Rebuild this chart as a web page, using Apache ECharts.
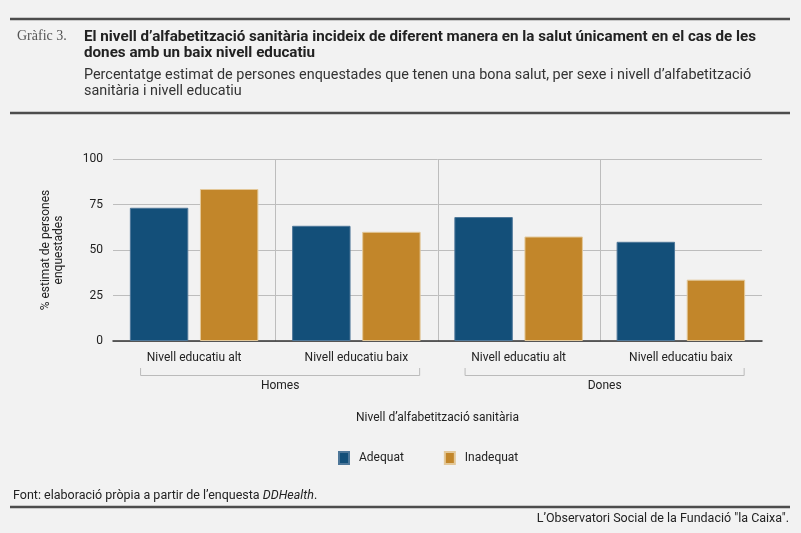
<!DOCTYPE html>
<html>
<head>
<meta charset="utf-8">
<script src="https://cdn.jsdelivr.net/npm/echarts@6/dist/echarts.min.js"></script>
<style>
html,body{margin:0;padding:0;background:#f2f2f2;}
#c{width:801px;height:533px;}
</style>
</head>
<body>
<div id="c"></div>
<script>
const categories = ['Nivell educatiu alt', 'Nivell educatiu baix', 'Nivell educatiu alt', 'Nivell educatiu baix'];
const groups = ['Homes', 'Dones'];
const seriesNames = ['Adequat', 'Inadequat'];
const adequat = [73.2, 63.3, 68.1, 54.5];
const inadequat = [83.5, 60.0, 57.4, 33.7];
const yTicks = [0, 25, 50, 75, 100];

const FONT = 'Roboto, "Liberation Sans", sans-serif';
const chart = echarts.init(document.getElementById('c'), null, {renderer: 'canvas'});

const option = {
  backgroundColor: '#f2f2f2',
  animation: false,
  textStyle: {fontFamily: FONT},
  title: [
    {text: 'Gràfic 3.', left: 17, top: 29, padding: 0,
     textStyle: {fontFamily: '"Liberation Serif", "DejaVu Serif", serif', fontSize: 14, fontWeight: 'normal', color: '#555'}},
    {text: 'El nivell d’alfabetització sanitària incideix de diferent manera en la salut únicament en el cas de les\ndones amb un baix nivell educatiu',
     left: 84, top: 29, padding: 0,
     textStyle: {fontFamily: FONT, fontSize: 15.2, fontWeight: 'bold', color: '#222', lineHeight: 16}},
    {text: 'Percentatge estimat de persones enquestades que tenen una bona salut, per sexe i nivell d’alfabetització\nsanitària i nivell educatiu',
     left: 84, top: 67, padding: 0,
     textStyle: {fontFamily: FONT, fontSize: 14.4, fontWeight: 'normal', color: '#333', lineHeight: 16}},
    {text: '{n|Font: elaboració pròpia a partir de l’enquesta }{i|DDHealth}{n|.}',
     left: 13, top: 489, padding: 0,
     textStyle: {fontWeight: 'normal', rich: {
       n: {fontFamily: FONT, fontSize: 12.5, fontWeight: 'normal', color: '#222'},
       i: {fontFamily: FONT, fontSize: 12.5, fontWeight: 'normal', fontStyle: 'italic', color: '#222'}}}},
    {text: 'L’Observatori Social de la Fundació "la Caixa".', right: 12, top: 512, padding: 0,
     textStyle: {fontFamily: FONT, fontSize: 12.5, fontWeight: 'normal', color: '#222'}}
  ],
  legend: {
    data: seriesNames,
    left: 333, top: 446,
    itemWidth: 10, itemHeight: 12, itemGap: 40,
    icon: 'rect',
    textStyle: {fontFamily: FONT, fontSize: 12, color: '#222', padding: [0, 0, 0, 5]}
  },
  grid: {left: 113, right: 39, top: 159, bottom: 192},
  xAxis: {
    type: 'category',
    data: categories,
    name: 'Nivell d’alfabetització sanitària',
    nameLocation: 'middle',
    nameGap: 71,
    nameTextStyle: {fontFamily: FONT, fontSize: 12, color: '#222'},
    axisLine: {show: true, lineStyle: {color: '#333', width: 1.5}},
    axisTick: {show: false},
    axisLabel: {fontFamily: FONT, fontSize: 12, color: '#222', margin: 11},
    splitLine: {show: false}
  },
  yAxis: {
    type: 'value',
    min: yTicks[0], max: yTicks[yTicks.length - 1], interval: 25,
    name: '% estimat de persones\nenquestades',
    nameLocation: 'middle',
    nameGap: 48,
    nameRotate: 90,
    nameTextStyle: {fontFamily: FONT, fontSize: 12, color: '#222', lineHeight: 13},
    axisLine: {show: false},
    axisTick: {show: false},
    axisLabel: {fontFamily: FONT, fontSize: 12, color: '#222', margin: 10},
    splitLine: {show: true, lineStyle: {color: '#bdbdbd', width: 1}}
  },
  series: [
    {name: seriesNames[0], type: 'bar', data: adequat, barWidth: '36%', barGap: '20%',
     itemStyle: {color: '#134f79', borderColor: '#4e7799', borderWidth: 1}},
    {name: seriesNames[1], type: 'bar', data: inadequat, barWidth: '36%', barGap: '20%',
     itemStyle: {color: '#c2862a', borderColor: '#e3c899', borderWidth: 1}}
  ]
};
chart.setOption(option);

// decorations computed from the axis scales
const c0 = chart.convertToPixel({xAxisIndex: 0}, 0);
const c1 = chart.convertToPixel({xAxisIndex: 0}, 1);
const w = c1 - c0;
const yTop = chart.convertToPixel({yAxisIndex: 0}, 100);
const yBot = chart.convertToPixel({yAxisIndex: 0}, 0);
const els = [];
// rules
[[19, 2.5], [113, 2.5], [507, 2.5]].forEach(([y, h]) => {
  els.push({type: 'rect', shape: {x: 10, y: y - h / 2, width: 780, height: h}, style: {fill: '#4d4d4d'}, silent: true});
});
// vertical dividers between categories
for (let i = 0; i < categories.length - 1; i++) {
  const x = Math.round(chart.convertToPixel({xAxisIndex: 0}, i) + w / 2) + 0.5;
  els.push({type: 'line', shape: {x1: x, y1: yTop, x2: x, y2: yBot}, style: {stroke: '#bdbdbd', lineWidth: 1}, z: 0, silent: true});
}
// group brackets
groups.forEach((g, gi) => {
  const a = chart.convertToPixel({xAxisIndex: 0}, gi * 2) - 0.33 * w;
  const b = chart.convertToPixel({xAxisIndex: 0}, gi * 2 + 1) + 0.39 * w;
  const yb = yBot + 34.5, yt = yBot + 27;
  els.push({type: 'polyline', shape: {points: [[a, yt], [a, yb], [b, yb], [b, yt]]}, style: {stroke: '#bbbbbb', lineWidth: 1, fill: null}, silent: true});
  els.push({type: 'text', x: (a + b) / 2, y: yBot + 45,
    style: {text: g, fontFamily: FONT, fontSize: 12, fill: '#222', align: 'center', verticalAlign: 'middle'}, silent: true});
});
chart.setOption({graphic: {elements: els}});
</script>
</body>
</html>
